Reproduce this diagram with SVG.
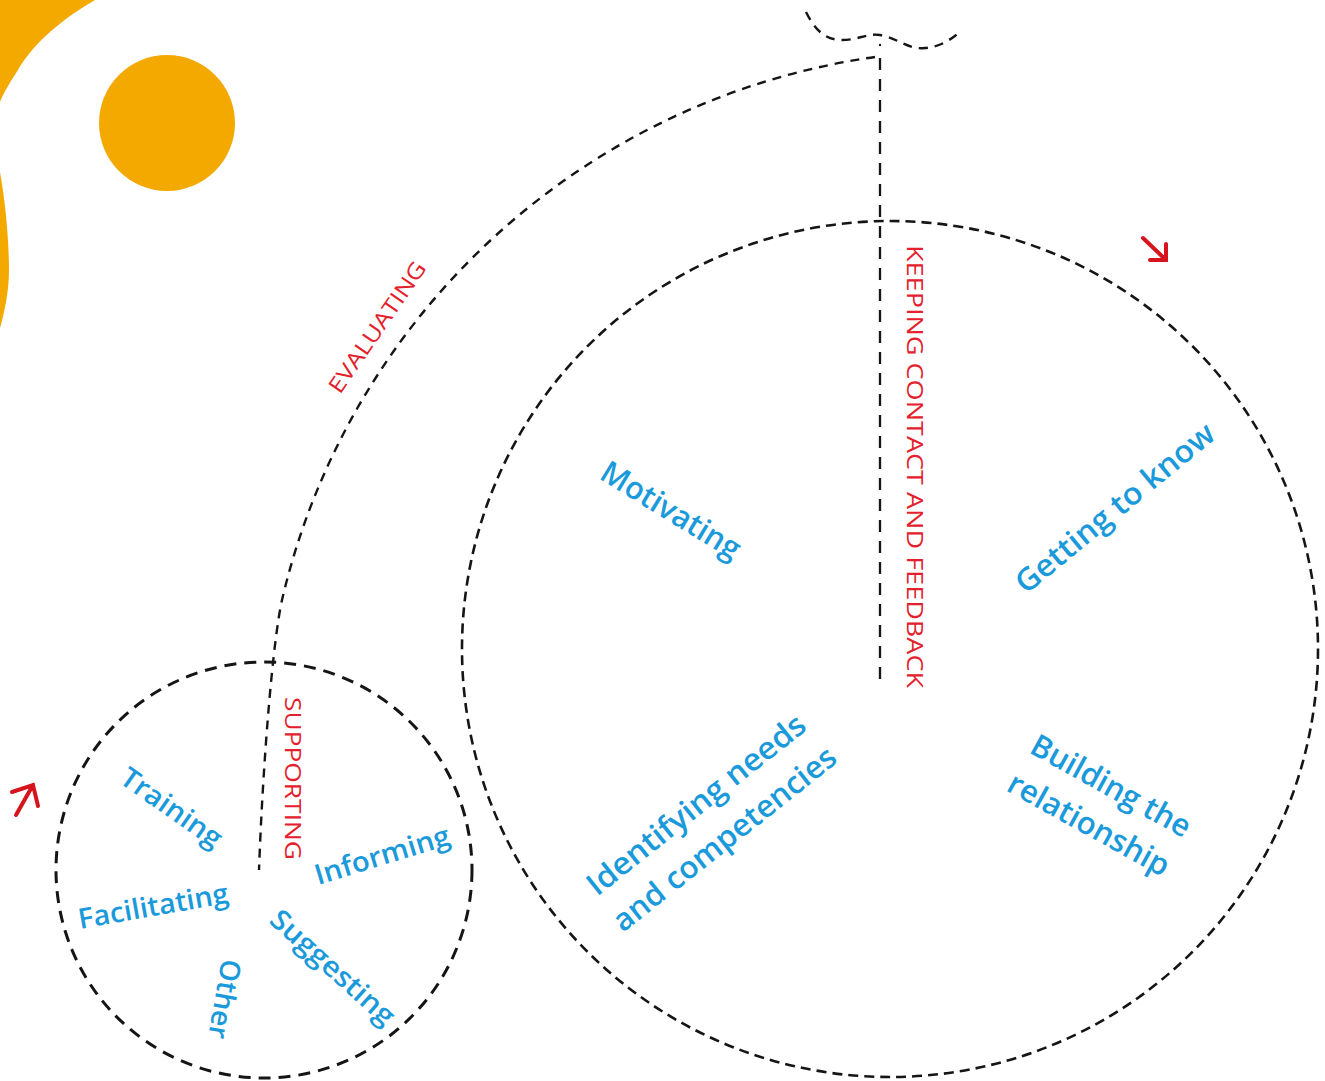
<svg xmlns="http://www.w3.org/2000/svg" width="1325" height="1081" viewBox="0 0 1325 1081">
<style>
.dash{fill:none;stroke:#151515;stroke-linecap:butt}
.big{stroke-width:2.6;stroke-dasharray:10 6}
.small{stroke-width:3;stroke-dasharray:12 8}
.arc{stroke-width:2.4;stroke-dasharray:9 7}
.vert{stroke-width:2.3;stroke-dasharray:12 9}
.red{font-family:"Open Sans","Liberation Sans",sans-serif;font-size:22px;fill:#E3202B}
.blue{font-family:"Open Sans","Liberation Sans",sans-serif;font-weight:600;fill:#1A9ADB}
.b30{font-size:31px}
.b27{font-size:28px}
.arrow{fill:none;stroke:#D5141E;stroke-width:4;stroke-linecap:round;stroke-linejoin:miter}
</style>
<g id="decor">
<path d="M0,0 L95,0 C64,18 34,42 18,70 C8,85 2,96 0,102 Z" fill="#F4A900"/>
<path d="M0,172 C6,205 9,245 9,270 C9,290 5,310 0,328 Z" fill="#F4A900"/>
<circle cx="167" cy="123" r="68" fill="#F4A900"/>
</g>
<g id="connectors">
<path class="dash arc" d="M806,12 C815,30 825,40 842,40 C858,40 868,33 880,35 C898,38 908,50 925,48 C940,47 950,40 960,32"/>
<circle cx="880" cy="45" r="1.2" fill="#151515"/>
<path class="dash arc" d="M875,57 A711.5,711.5 0 0 0 282,600 C273,640 263,760 259,870"/>
<path class="dash vert" d="M880,58 L880,688"/>
</g>
<g id="node-big-circle">
<circle class="dash big" cx="890" cy="649" r="428"/>
</g>
<g id="node-small-circle">
<circle class="dash small" cx="264" cy="870" r="208"/>
</g>
<g id="arrows">
<path class="arrow" d="M1143,238 L1166,260 M1166,244 L1166,260 L1150,260"/>
<path class="arrow" d="M16,815 L33,785 M12,792 L33,785 L38,806"/>
</g>
<g id="labels-red">
<text class="red" transform="translate(340,395) rotate(-55.5)" textLength="154" lengthAdjust="spacingAndGlyphs">EVALUATING</text>
<text class="red" transform="translate(907,245) rotate(90)" textLength="443" lengthAdjust="spacingAndGlyphs">KEEPING CONTACT AND FEEDBACK</text>
<text class="red" transform="translate(285,697) rotate(90)" textLength="163" lengthAdjust="spacingAndGlyphs">SUPPORTING</text>
</g>
<g id="labels-big">
<text class="blue b30" transform="translate(598,478) rotate(31.5)" textLength="158" lengthAdjust="spacingAndGlyphs">Motivating</text>
<text class="blue b30" transform="translate(1026,595) rotate(-39.5)" textLength="248" lengthAdjust="spacingAndGlyphs">Getting to know</text>
<text class="blue b30" transform="translate(597,897) rotate(-38.5)" textLength="270" lengthAdjust="spacingAndGlyphs">Identifying needs</text>
<text class="blue b30" transform="translate(623,933) rotate(-38.5)" textLength="276" lengthAdjust="spacingAndGlyphs">and competencies</text>
<text class="blue b30" transform="translate(1028,752) rotate(29)" textLength="178" lengthAdjust="spacingAndGlyphs">Building the</text>
<text class="blue b30" transform="translate(1005,790) rotate(29)" textLength="180" lengthAdjust="spacingAndGlyphs">relationship</text>
</g>
<g id="labels-small">
<text class="blue b27" transform="translate(118,782) rotate(35)" textLength="117" lengthAdjust="spacingAndGlyphs">Training</text>
<text class="blue b27" transform="translate(80,929) rotate(-10)" textLength="152" lengthAdjust="spacingAndGlyphs">Facilitating</text>
<text class="blue b27" transform="translate(318,885) rotate(-17)" textLength="140" lengthAdjust="spacingAndGlyphs">Informing</text>
<text class="blue b27" transform="translate(268,922) rotate(42)" textLength="157" lengthAdjust="spacingAndGlyphs">Suggesting</text>
<text class="blue b27" transform="translate(222,958) rotate(100)" textLength="80" lengthAdjust="spacingAndGlyphs">Other</text>
</g>
</svg>
